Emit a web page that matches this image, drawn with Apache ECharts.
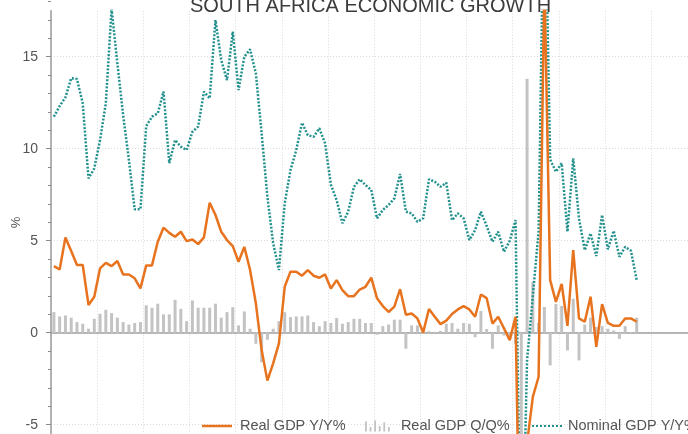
<!DOCTYPE html>
<html><head><meta charset="utf-8">
<script src="https://cdn.jsdelivr.net/npm/echarts@6/dist/echarts.min.js"></script>
<style>html,body{margin:0;padding:0;background:#fff}#c{width:688px;height:434px}</style>
</head><body><div id="c"></div>
<script>
const quarters = [
 '2000Q1','2000Q2','2000Q3','2000Q4','2001Q1','2001Q2','2001Q3','2001Q4',
 '2002Q1','2002Q2','2002Q3','2002Q4','2003Q1','2003Q2','2003Q3','2003Q4',
 '2004Q1','2004Q2','2004Q3','2004Q4','2005Q1','2005Q2','2005Q3','2005Q4',
 '2006Q1','2006Q2','2006Q3','2006Q4','2007Q1','2007Q2','2007Q3','2007Q4',
 '2008Q1','2008Q2','2008Q3','2008Q4','2009Q1','2009Q2','2009Q3','2009Q4',
 '2010Q1','2010Q2','2010Q3','2010Q4','2011Q1','2011Q2','2011Q3','2011Q4',
 '2012Q1','2012Q2','2012Q3','2012Q4','2013Q1','2013Q2','2013Q3','2013Q4',
 '2014Q1','2014Q2','2014Q3','2014Q4','2015Q1','2015Q2','2015Q3','2015Q4',
 '2016Q1','2016Q2','2016Q3','2016Q4','2017Q1','2017Q2','2017Q3','2017Q4',
 '2018Q1','2018Q2','2018Q3','2018Q4','2019Q1','2019Q2','2019Q3','2019Q4',
 '2020Q1','2020Q2','2020Q3','2020Q4','2021Q1','2021Q2','2021Q3','2021Q4',
 '2022Q1','2022Q2','2022Q3','2022Q4','2023Q1','2023Q2','2023Q3','2023Q4',
 '2024Q1','2024Q2','2024Q3','2024Q4','2025Q1','2025Q2'
];
const realYY = [
 3.62,3.44,5.18,4.44,3.68,3.68,1.51,1.96,
 3.5,3.8,3.62,3.9,3.17,3.17,2.96,2.41,
 3.66,3.66,4.95,5.71,5.43,5.22,5.49,4.98,
 5.07,4.82,5.18,7.07,6.4,5.49,5.04,4.71,
 3.86,4.67,3.41,1.6,-0.94,-2.6,-1.66,-0.58,
 2.5,3.32,3.32,3.1,3.41,3.1,2.99,3.17,
 2.41,2.86,2.32,1.99,1.99,2.35,2.5,3.0,
 1.87,1.45,1.13,1.42,2.37,0.98,1.05,0.78,
 0.02,1.29,0.87,0.47,0.66,1.02,1.27,1.45,
 1.27,0.87,2.08,1.88,0.5,0.87,0.24,-0.4,
 0.87,-17.1,-6.0,-3.48,-2.39,19.3,2.86,1.68,
 2.65,0.38,4.49,0.78,0.6,1.96,-0.76,1.56,
 0.54,0.38,0.38,0.78,0.78,0.6
];
const realQQ = [
 1.12,0.89,0.94,0.82,0.58,0.49,0.22,0.76,
 1.03,1.25,1.07,0.82,0.58,0.45,0.53,0.58,
 1.49,1.36,1.58,1.0,1.0,1.79,1.3,0.63,
 1.76,1.36,1.36,1.36,1.58,0.82,1.12,1.39,
 0.4,1.16,0.22,-0.6,-1.6,-0.38,0.22,0.63,
 1.12,0.85,0.89,0.89,0.94,0.58,0.36,0.63,
 0.53,0.8,0.49,0.58,0.76,0.76,0.53,0.53,
 -0.11,0.36,0.45,0.71,0.71,-0.87,0.4,0.4,
 -0.05,0.08,0.05,0.1,0.49,0.53,0.22,0.53,
 0.49,-0.24,1.18,0.2,-0.87,0.4,-0.15,-0.35,
 -0.6,-16.0,13.8,2.77,0.55,1.4,-1.77,1.57,
 1.46,-0.96,1.85,-1.5,0.45,0.82,0.31,0.36,
 0.22,0.13,-0.33,0.36,0.04,0.82
];
const nominalYY = [
 11.74,12.32,12.79,13.83,13.79,12.47,8.39,8.93,
 10.47,12.47,17.6,14.64,11.83,9.39,6.71,6.71,
 11.23,11.74,11.92,13.1,9.21,10.47,10.11,9.93,
 10.92,11.2,13.1,12.74,16.99,14.82,13.73,16.36,
 13.19,15.0,15.4,14.1,10.84,7.39,4.86,3.41,
 7.03,8.84,9.93,11.41,10.74,10.65,11.11,10.29,
 8.05,7.21,5.95,6.58,7.93,8.34,8.03,7.76,
 6.22,6.67,6.94,7.3,8.63,6.58,6.49,6.03,
 6.22,8.34,8.21,7.93,8.15,6.12,6.49,6.22,
 5.04,5.58,6.58,5.8,4.95,5.49,4.4,5.0,
 6.12,-15.0,-1.5,2.0,5.5,26.0,9.42,8.75,
 9.21,5.49,9.48,6.2,4.49,5.4,4.17,6.4,
 4.53,5.54,4.13,4.67,4.46,2.86
];
const yTicks = [-5, 0, 5, 10, 15];

// quarter label -> position on the time (year) axis, centred in its quarter
const xs = quarters.map(q => +q.slice(0, 4) + (+q.slice(5) - 0.5) / 4);
const pair = arr => arr.map((v, i) => [xs[i], v]);

const FONT = 'Liberation Sans, Arial, sans-serif';
const ORANGE = '#E8731E', TEAL = '#22918d', GREY = '#c3c3c3';
const DOTS = 'path://M0,0L2,0L2,2L0,2Z M4,0L6,0L6,2L4,2Z M8,0L10,0L10,2L8,2Z M12,0L14,0L14,2L12,2Z M16,0L18,0L18,2L16,2Z M20,0L22,0L22,2L20,2Z M24,0L26,0L26,2L24,2Z M28,0L30,0L30,2L28,2Z';
const BARS = 'path://M0,3L2,3L2,14L0,14Z M5,9L7,9L7,14L5,14Z M10,2L12,2L12,14L10,14Z M15,8L17,8L17,14L15,14Z M20,4L22,4L22,14L20,14Z M25,9L27,9L27,14L25,14Z';
const legendText = {fontFamily: FONT, fontSize: 14.5, color: '#555'};

const chart = echarts.init(document.getElementById('c'), null, {renderer: 'canvas'});
chart.setOption({
  animation: false,
  backgroundColor: '#ffffff',
  title: {
    text: 'SOUTH AFRICA ECONOMIC GROWTH', left: 185, top: -9,
    textStyle: {fontFamily: FONT, fontSize: 20, fontWeight: 'normal', color: '#3c3c3c'}
  },
  grid: [
    {left: 51, right: -9.3, top: -35.3, bottom: 9.3, outerBoundsMode: 'none', containLabel: false},
    {left: 51, right: -9.3, top: 10.7, bottom: 0, outerBoundsMode: 'none', containLabel: false}
  ],
  xAxis: [
    {gridIndex: 0, type: 'value', min: 2000, max: 2028, show: false},
    {gridIndex: 1, type: 'value', min: 2000, max: 2028, interval: 2,
     axisLine: {onZero: true, lineStyle: {color: '#a0a0a0', width: 1.5}},
     axisTick: {show: false}, axisLabel: {show: false},
     splitLine: {show: true, lineStyle: {color: '#dadada', type: [1, 2], width: 1}}}
  ],
  yAxis: [
    {gridIndex: 0, type: 'value', min: yTicks[0], max: 20, interval: 5,
     axisLine: {show: false},
     axisTick: {show: true, length: 5, lineStyle: {color: '#8a8a8a', width: 1}},
     minorTick: {show: true, splitNumber: 5, length: 3, lineStyle: {color: '#8a8a8a', width: 1}},
     axisLabel: {margin: 13, fontSize: 14, color: '#555', fontFamily: FONT,
                 formatter: v => (yTicks.indexOf(v) >= 0 ? String(v) : '')},
     splitLine: {show: true, lineStyle: {color: '#dadada', type: [1, 2], width: 1}}},
    {gridIndex: 1, type: 'value', min: -5.5, max: 17.5,
     name: '%', nameLocation: 'middle', nameGap: 28, nameRotate: 90,
     nameTextStyle: {fontSize: 13, color: '#555', fontFamily: FONT},
     axisLine: {show: true, onZero: false, lineStyle: {color: '#9a9a9a', width: 1.5}},
     axisTick: {show: false}, axisLabel: {show: false}, splitLine: {show: false}}
  ],
  legend: [
    {data: [{name: 'Real GDP Y/Y%', icon: 'rect'}], left: 197, top: 413.5,
     itemWidth: 30, itemHeight: 2.5, itemStyle: {color: ORANGE},
     textStyle: Object.assign({padding: [0, 0, 0, 3]}, legendText)},
    {data: [{name: 'Real GDP Q/Q%', icon: BARS}], left: 360, top: 413.5,
     itemWidth: 27, itemHeight: 11, itemStyle: {color: GREY},
     textStyle: Object.assign({padding: [0, 0, 0, 5]}, legendText)},
    {data: [{name: 'Nominal GDP Y/Y%', icon: DOTS}], left: 527, top: 413.5,
     itemWidth: 30, itemHeight: 2.5, itemStyle: {color: TEAL},
     textStyle: Object.assign({padding: [0, 0, 0, 1]}, legendText)}
  ],
  series: [
    {name: 'Real GDP Q/Q%', type: 'bar', xAxisIndex: 1, yAxisIndex: 1,
     data: pair(realQQ), barWidth: 3, itemStyle: {color: GREY}, z: 1},
    {name: 'Nominal GDP Y/Y%', type: 'line', xAxisIndex: 1, yAxisIndex: 1,
     data: pair(nominalYY), symbol: 'none', itemStyle: {color: TEAL},
     lineStyle: {color: TEAL, width: 2.5, type: [2, 1.6]}, z: 2},
    {name: 'Real GDP Y/Y%', type: 'line', xAxisIndex: 1, yAxisIndex: 1,
     data: pair(realYY), symbol: 'none', itemStyle: {color: ORANGE},
     lineStyle: {color: ORANGE, width: 2.5}, z: 3}
  ]
});
</script></body></html>
